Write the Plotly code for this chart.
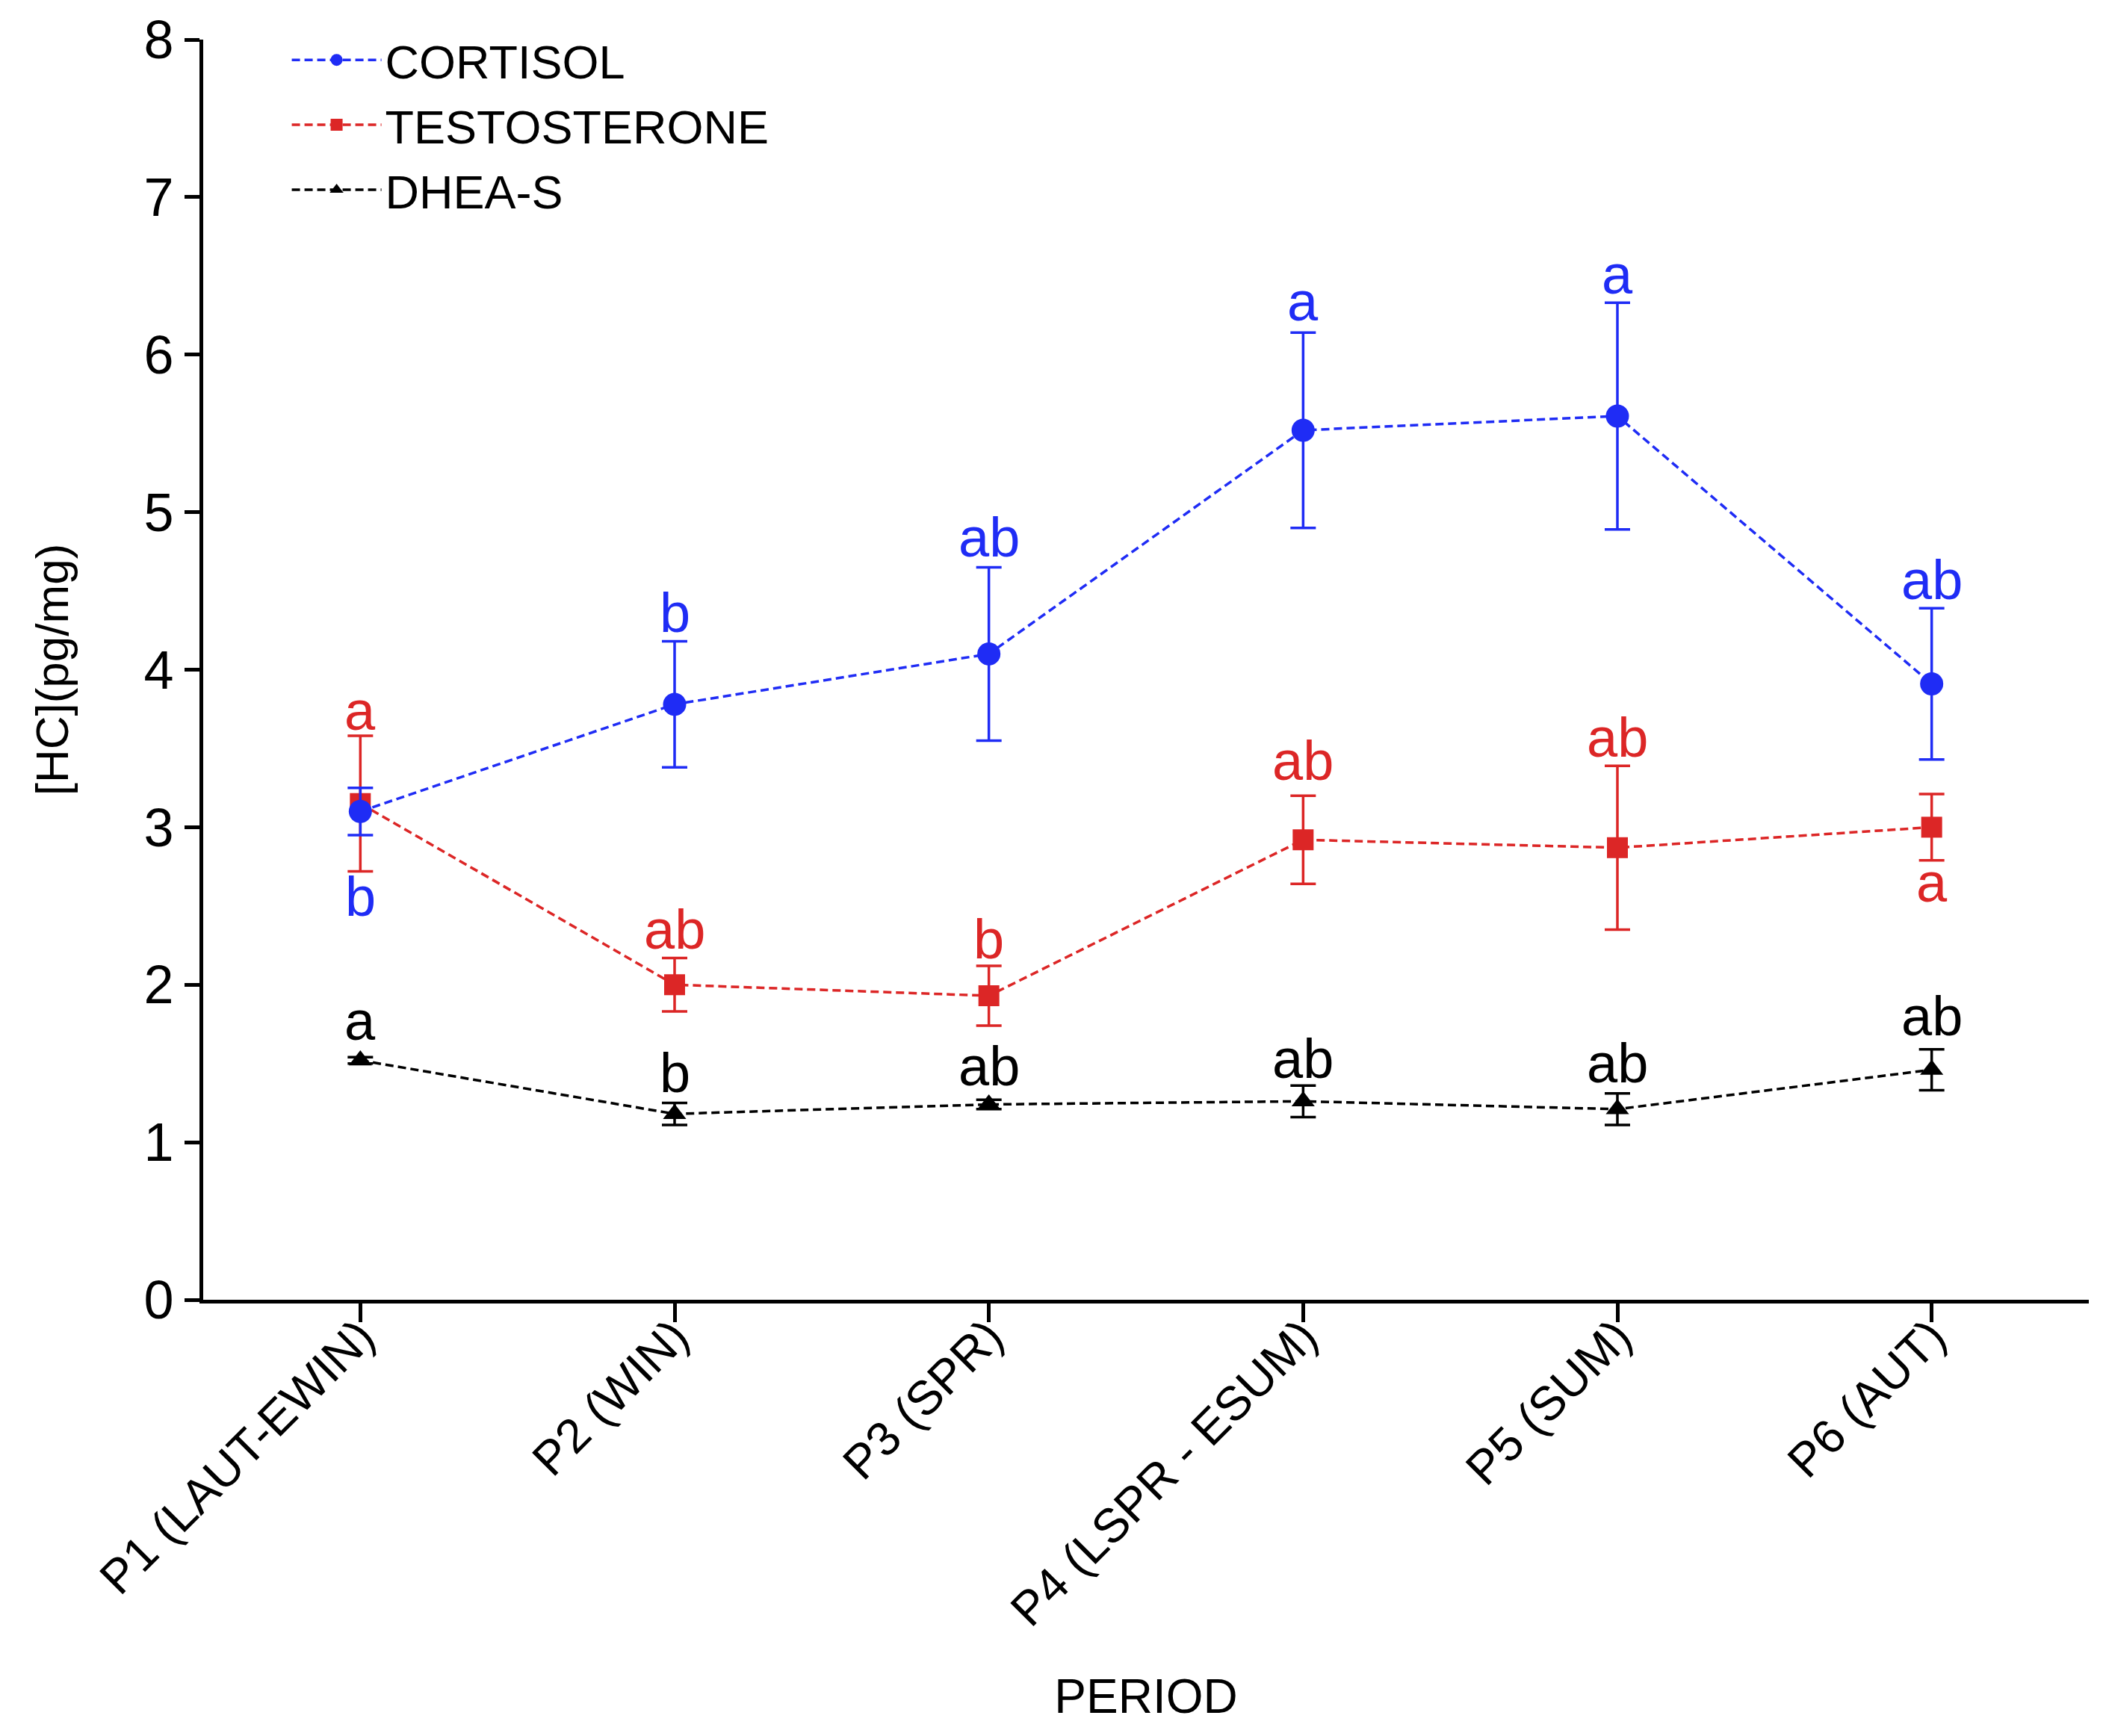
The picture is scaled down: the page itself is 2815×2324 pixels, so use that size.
import plotly.graph_objects as go

periods = ["P1 (LAUT-EWIN)", "P2 (WIN)", "P3 (SPR)", "P4 (LSPR - ESUM)", "P5 (SUM)", "P6 (AUT)"]

cortisol = [3.10, 3.78, 4.10, 5.52, 5.61, 3.91]
cortisol_err = [0.15, 0.40, 0.55, 0.62, 0.72, 0.48]
cortisol_letters = ["b", "b", "ab", "a", "a", "ab"]
cortisol_letter_y = [2.56, 4.36, 4.84, 6.34, 6.51, 4.57]

testosterone = [3.15, 2.00, 1.93, 2.92, 2.87, 3.00]
testosterone_err = [0.43, 0.17, 0.19, 0.28, 0.52, 0.21]
testosterone_letters = ["a", "ab", "b", "ab", "ab", "a"]
testosterone_letter_y = [3.74, 2.35, 2.29, 3.42, 3.57, 2.65]

dheas = [1.52, 1.18, 1.24, 1.26, 1.21, 1.46]
dheas_err = [0.02, 0.07, 0.03, 0.10, 0.10, 0.13]
dheas_letters = ["a", "b", "ab", "ab", "ab", "ab"]
dheas_letter_y = [1.77, 1.44, 1.48, 1.53, 1.50, 1.80]

BLUE = "#1f2cf5"
RED = "#dc2626"
BLACK = "#000000"
FONT = "Liberation Sans, Arial, sans-serif"

fig = go.Figure()

series = [
    ("DHEA-S", dheas, dheas_err, BLACK, "triangle-up", 27, 3),
    ("TESTOSTERONE", testosterone, testosterone_err, RED, "square", 28, 2),
    ("CORTISOL", cortisol, cortisol_err, BLUE, "circle", 31, 1),
]
for name, vals, errs, col, sym, size, rank in series:
    fig.add_trace(go.Scatter(
        x=periods, y=vals, name=name, mode="lines+markers",
        line=dict(color=col, width=3.5, dash="11px,6px"),
        marker=dict(symbol=sym, size=size, color=col),
        error_y=dict(type="data", array=errs, visible=True, color=col,
                     thickness=3.5, width=17),
        legendrank=rank, legendgroup=name,
    ))

for letters, ys, col in [
    (cortisol_letters, cortisol_letter_y, BLUE),
    (testosterone_letters, testosterone_letter_y, RED),
    (dheas_letters, dheas_letter_y, BLACK),
]:
    for p, t, yv in zip(periods, letters, ys):
        fig.add_annotation(x=p, y=yv, text=t, showarrow=False,
                           xanchor="center", yanchor="middle",
                           font=dict(family=FONT, size=74, color=col))

fig.update_layout(
    width=2815, height=2324,
    margin=dict(l=264, r=27, t=45, b=592),
    paper_bgcolor="white", plot_bgcolor="white",
    font=dict(family=FONT, color="black"),
    showlegend=True,
    legend=dict(x=0.045, y=1.012, xanchor="left", yanchor="top",
                font=dict(family=FONT, size=63, color="black"),
                bgcolor="rgba(0,0,0,0)", itemwidth=120,
                tracegroupgap=2),
)

fig.update_xaxes(
    type="category", range=[-0.5, 5.5], automargin=False,
    showline=True, linecolor="black", linewidth=5,
    ticks="outside", ticklen=25, tickwidth=5, tickcolor="black",
    tickangle=-45, tickfont=dict(family=FONT, size=64, color="black"),
    ticklabelstandoff=-44,
    showgrid=False, zeroline=False,
    title=dict(text="PERIOD", font=dict(family=FONT, size=64, color="black"), standoff=60),
)
fig.update_yaxes(
    range=[0, 8], tickvals=[0, 1, 2, 3, 4, 5, 6, 7, 8], automargin=False,
    showline=True, linecolor="black", linewidth=5,
    ticks="outside", ticklen=20, tickwidth=5, tickcolor="black",
    tickfont=dict(family=FONT, size=72, color="black"),
    showgrid=False, zeroline=False,
    title=dict(text="[HC](pg/mg)", font=dict(family=FONT, size=62, color="black"), standoff=82),
)

fig.write_html("out.html")
